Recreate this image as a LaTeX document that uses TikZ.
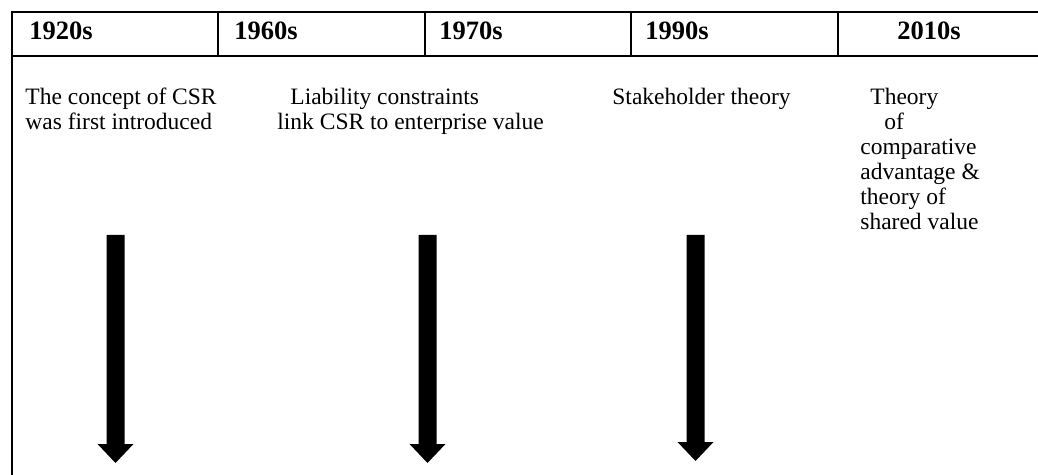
\documentclass[tikz,border=0pt]{standalone}
\usepackage{fontspec}
\setmainfont{Liberation Serif}
\usetikzlibrary{calc}
\begin{document}
\begin{tikzpicture}[x=0.5pt,y=-0.5pt,
  rule/.style={line width=1pt,line cap=rect},
  yearlabel/.style={anchor=base west,inner sep=0pt,
    font=\fontsize{13.25pt}{16pt}\selectfont\bfseries},
  bodytext/.style={anchor=base west,inner sep=0pt,
    font=\fontsize{11.75pt}{14pt}\selectfont},
  bigarrow/.style={fill=black}]
\useasboundingbox (0,0) rectangle (1038,475);

% header band with the decades
\draw[rule] (12,12) -- (1038,12);
\draw[rule] (12,56) -- (1038,56);
\draw[rule] (12,12) -- (12,475);
\foreach \xd in {218,425,631,838} \draw[rule] (\xd,12) -- (\xd,56);

\node[yearlabel] (y1920) at (29,39.5) {1920s};
\node[yearlabel] (y1960) at (234,39.5) {1960s};
\node[yearlabel] (y1970) at (439,39.5) {1970s};
\node[yearlabel] (y1990) at (645,39.5) {1990s};
\node[yearlabel] (y2010) at (897,39.5) {2010s};

% milestone descriptions
\node[bodytext] (t1a) at (25,105) {The concept of CSR};
\node[bodytext] (t1b) at (25,130) {was first introduced};
\node[bodytext] (t2a) at (290,105) {Liability constraints};
\node[bodytext] (t2b) at (277,130) {link CSR to enterprise value};
\node[bodytext] (t3a) at (612,105) {Stakeholder theory};
\node[bodytext] (t4a) at (870,105) {Theory};
\node[bodytext] (t4b) at (884,130) {of};
\node[bodytext] (t4c) at (860,155) {comparative};
\node[bodytext] (t4d) at (860,180) {advantage \&};
\node[bodytext] (t4e) at (860,205) {theory of};
\node[bodytext] (t4f) at (860,230) {shared value};

% block arrows pointing downwards
\coordinate (a1top) at (115.5,235); \coordinate (a1tip) at (115.5,463);
\coordinate (a2top) at (427.5,235); \coordinate (a2tip) at (427.5,463);
\coordinate (a3top) at (695.5,235); \coordinate (a3tip) at (695.5,461);
\foreach \a in {a1,a2,a3}
  \fill[bigarrow] ($(\a top)+(-9,0)$) -- ($(\a top)+(9,0)$)
    -- ($(\a tip)+(9,-19)$) -- ($(\a tip)+(18,-19)$) -- (\a tip)
    -- ($(\a tip)+(-18,-19)$) -- ($(\a tip)+(-9,-19)$) -- cycle;
\end{tikzpicture}
\end{document}
